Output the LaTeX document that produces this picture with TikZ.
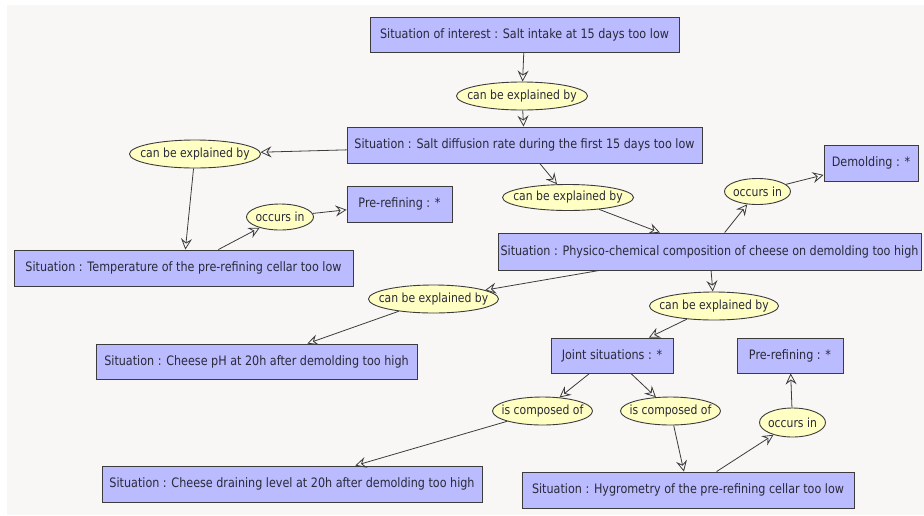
\documentclass[tikz,border=0pt]{standalone}
\usepackage{fontspec}
\setmainfont{DejaVu Sans}[FakeStretch=0.86]
\usetikzlibrary{arrows.meta,shapes.geometric}
\definecolor{bg}{HTML}{F8F7F5}
\definecolor{boxfill}{HTML}{BBBBFF}
\definecolor{ellfill}{HTML}{FFFFC4}
\definecolor{edge}{HTML}{3C3C3C}
\definecolor{txt}{HTML}{2A2A3A}
\tikzset{
  sbox/.style={draw=edge, line width=0.9pt, fill=boxfill, rectangle, inner sep=0pt,
    font=\fontsize{13}{15}\selectfont, text=txt},
  rel/.style={draw=edge, line width=0.9pt, fill=ellfill, ellipse, inner sep=0pt},
  lbl/.style={inner sep=0pt, font=\fontsize{12.6}{15}\selectfont, text=txt},
  conn/.style={draw=edge, line width=0.8pt, -{Stealth[open,length=11pt,width=11pt,inset=4pt]}},
}
\begin{document}
\begin{tikzpicture}[x=1pt,y=-1pt]
\useasboundingbox (0,0) rectangle (924,515);
\fill[white] (0,0) rectangle (924,515);
\fill[bg] (7,5) rectangle (924,515);
% boxes
\node[sbox, minimum width=309pt, minimum height=35pt] (si) at (524.5,34.5) {Situation of interest : Salt intake at 15 days too low};
\node[sbox, minimum width=355pt, minimum height=36pt] (salt) at (524.5,145) {Situation : Salt diffusion rate during the first 15 days too low};
\node[sbox, minimum width=105pt, minimum height=36pt] (pre1) at (399.5,204) {Pre-refining : *};
\node[sbox, minimum width=339pt, minimum height=36pt] (temp) at (183.5,268) {Situation : Temperature of the pre-refining cellar too low};
\node[sbox, minimum width=94pt, minimum height=36pt] (demold) at (871,163) {Demolding : *};
\node[sbox, minimum width=423pt, minimum height=37pt] (phys) at (709.5,251.5) {Situation : Physico-chemical composition of cheese on demolding too high};
\node[sbox, minimum width=321pt, minimum height=35pt] (ph) at (256.5,361.5) {Situation : Cheese pH at 20h after demolding too high};
\node[sbox, minimum width=122pt, minimum height=35pt] (joint) at (612,355.5) {Joint situations : *};
\node[sbox, minimum width=106pt, minimum height=35pt] (pre2) at (790,355.5) {Pre-refining : *};
\node[sbox, minimum width=332pt, minimum height=36pt] (hyg) at (688,490) {Situation : Hygrometry of the pre-refining cellar too low};
\node[sbox, minimum width=380pt, minimum height=36pt] (drain) at (292,484) {Situation : Cheese draining level at 20h after demolding too high};
% relations (ellipse shapes, then their labels)
\node[rel, minimum width=131pt, minimum height=28pt] (e1) at (522,96) {};
\node[rel, minimum width=131pt, minimum height=28pt] (e2) at (195,154) {};
\node[rel, minimum width=67pt, minimum height=26pt] (o1) at (280,217) {};
\node[rel, minimum width=131pt, minimum height=26pt] (e3) at (568,197.5) {};
\node[rel, minimum width=66pt, minimum height=26pt] (o2) at (757.5,191.5) {};
\node[rel, minimum width=130pt, minimum height=28pt] (e4) at (433.5,299) {};
\node[rel, minimum width=129pt, minimum height=28pt] (e5) at (714,306) {};
\node[rel, minimum width=100pt, minimum height=28pt] (c1) at (542.5,411) {};
\node[rel, minimum width=100pt, minimum height=28pt] (c2) at (670.5,411) {};
\node[rel, minimum width=66pt, minimum height=29pt] (o3) at (792.5,422.5) {};
\node[lbl] (e1t) at (e1) {can be explained by};
\node[lbl] (e2t) at (e2) {can be explained by};
\node[lbl] (o1t) at (o1) {occurs in};
\node[lbl] (e3t) at (e3) {can be explained by};
\node[lbl] (o2t) at (o2) {occurs in};
\node[lbl] (e4t) at (e4) {can be explained by};
\node[lbl] (e5t) at (e5) {can be explained by};
\node[lbl] (c1t) at (c1) {is composed of};
\node[lbl] (c2t) at (c2) {is composed of};
\node[lbl] (o3t) at (o3) {occurs in};
% connectors
\draw[conn] (si) -- (e1);
\draw[conn] (e1) -- (salt);
\draw[conn] (salt) -- (e2);
\draw[conn] (e2) -- (temp);
\draw[conn] (temp) -- (o1);
\draw[conn] (o1) -- (pre1);
\draw[conn] (salt) -- (e3);
\draw[conn] (e3) -- (phys);
\draw[conn] (phys) -- (o2);
\draw[conn] (o2) -- (demold);
\draw[conn] (phys) -- (e4);
\draw[conn] (e4) -- (ph);
\draw[conn] (phys) -- (e5);
\draw[conn] (e5) -- (joint);
\draw[conn] (joint) -- (c1);
\draw[conn] (joint) -- (c2);
\draw[conn] (c1) -- (drain);
\draw[conn] (c2) -- (hyg);
\draw[conn] (hyg) -- (o3);
\draw[conn] (o3) -- (pre2);
\end{tikzpicture}
\end{document}
